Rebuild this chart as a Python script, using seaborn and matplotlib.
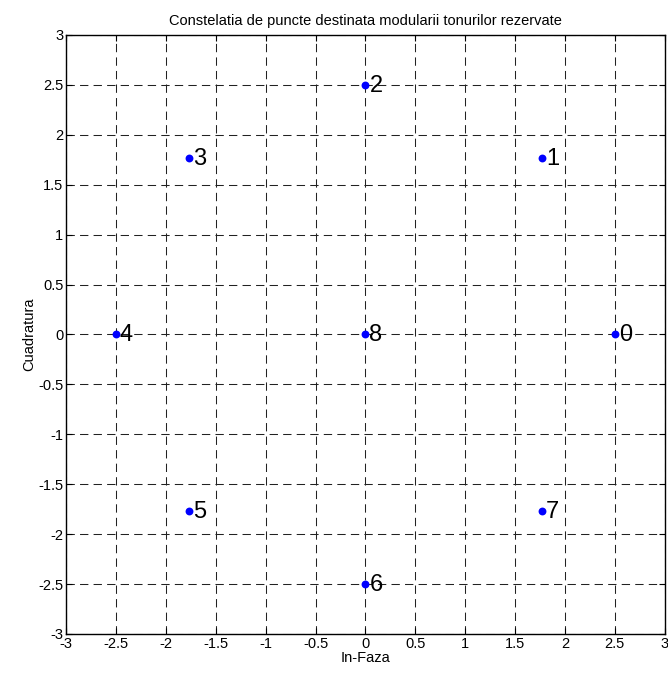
import numpy as np
import pandas as pd
import matplotlib
matplotlib.use('Agg')
import matplotlib.pyplot as plt
import seaborn as sns

# constellation points (In-Faza, Cuadratura) with their index
labels = ['0', '1', '2', '3', '4', '5', '6', '7', '8']
in_faza = [2.5, 1.77, 0.0, -1.77, -2.5, -1.77, 0.0, 1.77, 0.0]
cuadratura = [0.0, 1.77, 2.5, 1.77, 0.0, -1.77, -2.5, -1.77, 0.0]
ticks = [-3, -2.5, -2, -1.5, -1, -0.5, 0, 0.5, 1, 1.5, 2, 2.5, 3]

df = pd.DataFrame({'In-Faza': in_faza, 'Cuadratura': cuadratura, 'label': labels})

sns.set_style('white')
plt.rcParams['font.family'] = ['Liberation Sans', 'DejaVu Sans']
plt.rcParams['text.color'] = 'black'
plt.rcParams['axes.labelcolor'] = 'black'
plt.rcParams['xtick.color'] = 'black'
plt.rcParams['ytick.color'] = 'black'

fig = plt.figure(figsize=(6.68, 6.73), dpi=100)
ax = fig.add_axes([0.099, 0.058, 0.896, 0.89])

sns.scatterplot(data=df, x='In-Faza', y='Cuadratura', color='blue', s=32,
                edgecolor='blue', linewidth=0, ax=ax, zorder=3)
for _, row in df.iterrows():
    ax.text(row['In-Faza'] + 0.04, row['Cuadratura'] - 0.01, row['label'],
            fontsize=17, va='center', ha='left', color='black', zorder=4)

ax.set_xlim(-3, 3)
ax.set_ylim(-3, 3)
ax.set_xticks(ticks)
ax.set_yticks(ticks)
ax.set_xticklabels([f'{t:g}' for t in ticks])
ax.set_yticklabels([f'{t:g}' for t in ticks])
ax.grid(True, color='#222222', linestyle=(0, (8, 5)), linewidth=0.75)
ax.tick_params(direction='in', length=4, labelsize=10.5, top=True, right=True,
               bottom=True, left=True, pad=2, colors='black')
for s in ax.spines.values():
    s.set_color('black')
    s.set_linewidth(1.0)

ax.set_xlabel('In-Faza', fontsize=10.5, labelpad=0)
ax.set_ylabel('Cuadratura', fontsize=10.5, labelpad=1)
ax.set_title('Constelatia de puncte destinata modularii tonurilor rezervate',
             fontsize=10.5, pad=7)

fig.savefig('out.png', dpi=100)
